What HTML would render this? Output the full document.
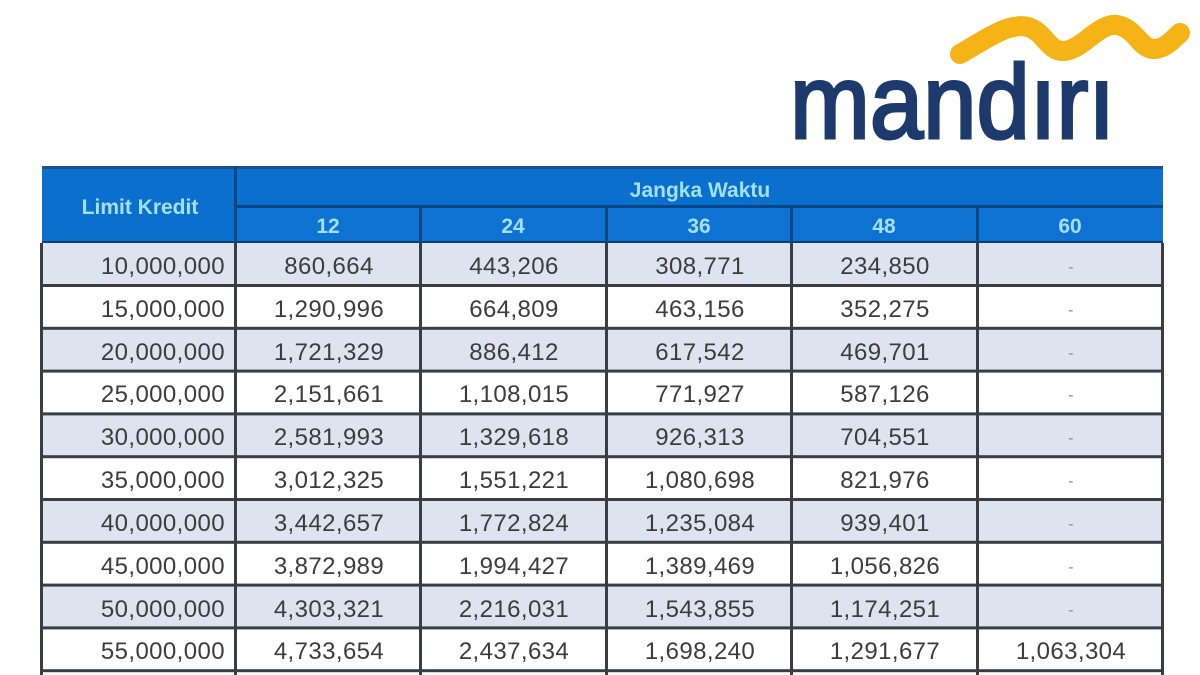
<!DOCTYPE html>
<html>
<head>
<meta charset="utf-8">
<style>
html,body{margin:0;padding:0;background:#fff;}
body{width:1200px;height:675px;overflow:hidden;}
svg{display:block;}
</style>
</head>
<body>
<svg width="1200" height="675" viewBox="0 0 1200 675" xmlns="http://www.w3.org/2000/svg">
  <rect x="0" y="0" width="1200" height="675" fill="#ffffff"/>
  <!-- Logo -->
  <path d="M960,54 C985,40 1008,22 1028,27 C1045,32 1048,52 1064,51 C1084,49 1098,23 1117,25 C1136,28 1140,50 1155,49 C1166,48 1172,40 1180,33" fill="none" stroke="#f5b315" stroke-width="20" stroke-linecap="round" stroke-linejoin="round"/>
  <text x="790" y="138" font-family="Liberation Sans, sans-serif" font-size="105" fill="#1c3a6b" stroke="#1c3a6b" stroke-width="3" textLength="325" lengthAdjust="spacingAndGlyphs">mandırı</text>

  <!-- Header -->
  <rect x="42" y="167" width="1121" height="77" fill="#0b6fcd"/>
  <rect x="236" y="207" width="927" height="37" fill="#0d72d1"/>
  <rect x="42" y="166" width="1121" height="3" fill="#1a4e8c"/>
  <rect x="236" y="205" width="927" height="3" fill="#0a4586"/>
  <rect x="42" y="241" width="1121" height="3" fill="#0b3d75"/>
  <g fill="#0a4586">
    <rect x="234" y="167" width="3" height="77"/>
    <rect x="419" y="207" width="3" height="37"/>
    <rect x="605" y="207" width="3" height="37"/>
    <rect x="790" y="207" width="3" height="37"/>
    <rect x="976" y="207" width="3" height="37"/>
  </g>
  <g font-family="Liberation Sans, sans-serif" font-weight="bold" fill="#a3e0f6" text-anchor="middle">
    <text x="140" y="214" font-size="21">Limit Kredit</text>
    <text x="700" y="197" font-size="21">Jangka Waktu</text>
    <text x="328" y="233" font-size="21">12</text>
    <text x="513" y="233" font-size="21">24</text>
    <text x="699" y="233" font-size="21">36</text>
    <text x="884" y="233" font-size="21">48</text>
    <text x="1070" y="233" font-size="21">60</text>
  </g>

  <!-- Row fills -->
  <g fill="#dde4ef">
    <rect x="42" y="243" width="1121" height="43"/>
    <rect x="42" y="328.6" width="1121" height="43"/>
    <rect x="42" y="414.2" width="1121" height="43"/>
    <rect x="42" y="499.8" width="1121" height="43"/>
    <rect x="42" y="585.4" width="1121" height="43"/>
  </g>

  <!-- Grid lines -->
  <g fill="#3a3d42">
    <rect x="42" y="284" width="1121" height="3"/>
    <rect x="42" y="326.8" width="1121" height="3"/>
    <rect x="42" y="369.6" width="1121" height="3"/>
    <rect x="42" y="412.4" width="1121" height="3"/>
    <rect x="42" y="455.2" width="1121" height="3"/>
    <rect x="42" y="498" width="1121" height="3"/>
    <rect x="42" y="540.8" width="1121" height="3"/>
    <rect x="42" y="583.6" width="1121" height="3"/>
    <rect x="42" y="626.4" width="1121" height="3"/>
    <rect x="42" y="669.2" width="1121" height="3"/>
    <rect x="40" y="243" width="3" height="432"/>
    <rect x="234" y="243" width="3" height="432"/>
    <rect x="419" y="243" width="3" height="432"/>
    <rect x="605" y="243" width="3" height="432"/>
    <rect x="790" y="243" width="3" height="432"/>
    <rect x="976" y="243" width="3" height="432"/>
    <rect x="1161" y="243" width="3" height="432"/>
  </g>

  <!-- Data -->
  <g font-family="Liberation Sans, sans-serif" font-size="24" fill="#3c3c3c" letter-spacing="0.4">
    <g text-anchor="end">
      <text x="225" y="274">10,000,000</text>
      <text x="225" y="317">15,000,000</text>
      <text x="225" y="360">20,000,000</text>
      <text x="225" y="402">25,000,000</text>
      <text x="225" y="445">30,000,000</text>
      <text x="225" y="488">35,000,000</text>
      <text x="225" y="531">40,000,000</text>
      <text x="225" y="574">45,000,000</text>
      <text x="225" y="617">50,000,000</text>
      <text x="225" y="659">55,000,000</text>
    </g>
    <g text-anchor="middle">
      <text x="329" y="274">860,664</text>
      <text x="329" y="317">1,290,996</text>
      <text x="329" y="360">1,721,329</text>
      <text x="329" y="402">2,151,661</text>
      <text x="329" y="445">2,581,993</text>
      <text x="329" y="488">3,012,325</text>
      <text x="329" y="531">3,442,657</text>
      <text x="329" y="574">3,872,989</text>
      <text x="329" y="617">4,303,321</text>
      <text x="329" y="659">4,733,654</text>

      <text x="514" y="274">443,206</text>
      <text x="514" y="317">664,809</text>
      <text x="514" y="360">886,412</text>
      <text x="514" y="402">1,108,015</text>
      <text x="514" y="445">1,329,618</text>
      <text x="514" y="488">1,551,221</text>
      <text x="514" y="531">1,772,824</text>
      <text x="514" y="574">1,994,427</text>
      <text x="514" y="617">2,216,031</text>
      <text x="514" y="659">2,437,634</text>

      <text x="700" y="274">308,771</text>
      <text x="700" y="317">463,156</text>
      <text x="700" y="360">617,542</text>
      <text x="700" y="402">771,927</text>
      <text x="700" y="445">926,313</text>
      <text x="700" y="488">1,080,698</text>
      <text x="700" y="531">1,235,084</text>
      <text x="700" y="574">1,389,469</text>
      <text x="700" y="617">1,543,855</text>
      <text x="700" y="659">1,698,240</text>

      <text x="885" y="274">234,850</text>
      <text x="885" y="317">352,275</text>
      <text x="885" y="360">469,701</text>
      <text x="885" y="402">587,126</text>
      <text x="885" y="445">704,551</text>
      <text x="885" y="488">821,976</text>
      <text x="885" y="531">939,401</text>
      <text x="885" y="574">1,056,826</text>
      <text x="885" y="617">1,174,251</text>
      <text x="885" y="659">1,291,677</text>

      <g fill="#8a8a8a" font-size="16">
        <text x="1071" y="272">-</text>
        <text x="1071" y="315">-</text>
        <text x="1071" y="358">-</text>
        <text x="1071" y="400">-</text>
        <text x="1071" y="443">-</text>
        <text x="1071" y="486">-</text>
        <text x="1071" y="529">-</text>
        <text x="1071" y="572">-</text>
        <text x="1071" y="615">-</text>
      </g>
      <text x="1071" y="659">1,063,304</text>
    </g>
  </g>
</svg>
</body>
</html>
